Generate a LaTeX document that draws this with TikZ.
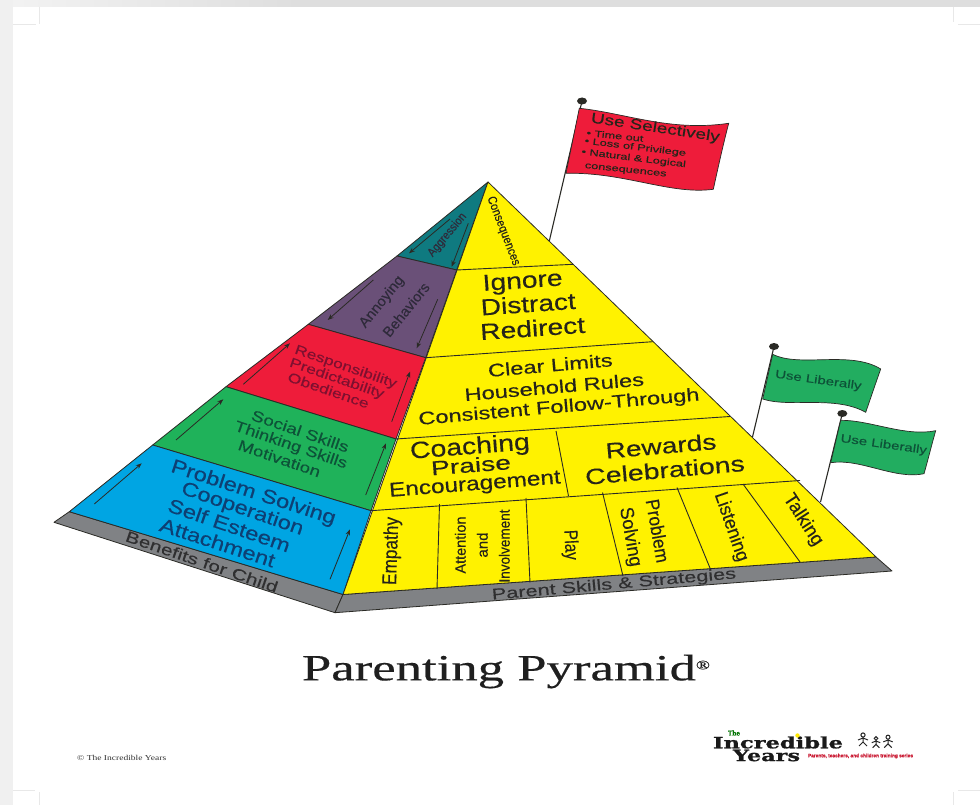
\documentclass[tikz,border=0pt]{standalone}
\usepackage{graphicx}
\usepackage{fontspec}
\setmainfont[FakeBold=0.25]{Liberation Sans}
\newfontfamily\serifface[FakeBold=0.35]{Liberation Serif}
\newfontfamily\plainserif{Liberation Serif}
\newfontfamily\logoface[FakeBold=1]{DejaVu Serif}
\definecolor{cblue}{HTML}{00A5E3}
\definecolor{cgreen}{HTML}{1FB25A}
\definecolor{cred}{HTML}{EE1C3A}
\definecolor{cpurple}{HTML}{6A5078}
\definecolor{cteal}{HTML}{0F7A80}
\definecolor{cyellow}{HTML}{FFF200}
\definecolor{cgrey}{HTML}{808285}
\definecolor{cline}{HTML}{2A2A25}
\definecolor{tblue}{HTML}{0E3F73}
\definecolor{tgreen}{HTML}{0D5238}
\definecolor{tred}{HTML}{7E1030}
\definecolor{tpurple}{HTML}{2E2A3A}
\definecolor{tyellow}{HTML}{26241A}
\definecolor{tgrey}{HTML}{2F2F30}
\definecolor{flaggreen}{HTML}{22AD60}
\newcommand{\lab}[7][tyellow]{\node[inner sep=0pt,rotate=#4,text=#1] (#2) at (#3) {\resizebox{#6pt}{\height}{\fontsize{#5}{#5}\selectfont\rule[-0.1em]{0pt}{0.82em}#7}};}
\tikzset{
 face/.style={draw=cline,line width=0.8pt,line join=round},
 rule/.style={draw=cline,line width=0.9pt},
 upar/.style={draw=cline,line width=0.8pt,-{Stealth[length=6pt,width=4.5pt]}},
 pole/.style={draw=cline,line width=1.1pt},
 crop/.style={draw=black!9,line width=0.8pt},
 fig/.style={draw=black!85,line width=1pt}
}
\usetikzlibrary{arrows.meta}
\begin{document}
\begin{tikzpicture}[x=1pt,y=-1pt]
\useasboundingbox (0,0) rectangle (980,805);
\fill[white] (0,0) rectangle (980,805);
% page surround
\fill[black!6] (0,0) rectangle (13,805);
\shade[left color=black!5,right color=black!13] (13,0) rectangle (300,7);
\fill[black!13] (300,0) rectangle (980,7);
\draw[crop] (39,7) -- (39,24) (13,24) -- (36,24);
\draw[crop] (953,7) -- (953,22) (958,24) -- (980,24);
\draw[crop] (13,790) -- (35,790) (39,792) -- (39,805);
\draw[crop] (953,792) -- (953,805) (958,790) -- (980,790);
% key points
\coordinate (apex) at (488,182);
\coordinate (L1) at (397,256);   \coordinate (C1) at (456.7,270);
\coordinate (L2) at (308.3,324.3); \coordinate (C2) at (425.7,357.7);
\coordinate (L3) at (226,386.7);   \coordinate (C3) at (396,439);
\coordinate (L4) at (152.7,445);   \coordinate (C4) at (371,510.7);
\coordinate (L5) at (69.3,511.7);  \coordinate (C5) at (343,594.5);
\coordinate (R1) at (573.3,264.3); \coordinate (R2) at (652.7,341.7);
\coordinate (R3) at (730,416.5);   \coordinate (R4) at (800,480.5);
\coordinate (R5) at (876,557);
\coordinate (GL) at (54,522.3);    \coordinate (GB) at (335,612.7);
\coordinate (GR) at (892,571);
% flag poles (behind pyramid)
\coordinate (p1t) at (582,101); \coordinate (p1b) at (549.3,241);
\coordinate (p2t) at (774,346.5); \coordinate (p2b) at (752.5,437);
\coordinate (p3t) at (842.3,413.5); \coordinate (p3b) at (820.5,502);
\draw[pole] (p1t) -- (p1b);
\draw[pole] (p2t) -- (p2b);
\draw[pole] (p3t) -- (p3b);
\fill[cline] (p1t) ellipse [x radius=5pt,y radius=3.5pt];
\fill[cline] (p2t) ellipse [x radius=5pt,y radius=3.5pt];
\fill[cline] (p3t) ellipse [x radius=5pt,y radius=3.5pt];
% flags
\filldraw[fill=cred,draw=cline,line width=0.7pt] (579.3,108.3) .. controls (625,113) and (670,132) .. (728.7,123.3) .. controls (723,145) and (718,168) .. (713.3,189.3) .. controls (670,195) and (625,172) .. (566,173.3) -- cycle;
\filldraw[fill=flaggreen,draw=cline,line width=0.7pt] (772.7,354.3) .. controls (800,368) and (850,350) .. (880.7,369) .. controls (875,385) and (870,400) .. (865.7,412.3) .. controls (835,395) and (790,408) .. (762.7,399) -- cycle;
\filldraw[fill=flaggreen,draw=cline,line width=0.7pt] (840.7,420.3) .. controls (870,420) and (905,437) .. (935.7,430.7) .. controls (931,447) and (928,460) .. (924,473.7) .. controls (895,480) and (860,458) .. (830.7,462.7) -- cycle;
% base strips
\filldraw[fill=cgrey,face] (GL) -- (L5) -- (C5) -- (GB) -- cycle;
\filldraw[fill=cgrey,face] (GB) -- (C5) -- (R5) -- (GR) -- cycle;
% left face
\filldraw[fill=cteal,face] (apex) -- (L1) -- (C1) -- cycle;
\filldraw[fill=cpurple,face] (L1) -- (L2) -- (C2) -- (C1) -- cycle;
\filldraw[fill=cred,face] (L2) -- (L3) -- (C3) -- (C2) -- cycle;
\filldraw[fill=cgreen,face] (L3) -- (L4) -- (C4) -- (C3) -- cycle;
\filldraw[fill=cblue,face] (L4) -- (L5) -- (C5) -- (C4) -- cycle;
% right face
\filldraw[fill=cyellow,face] (apex) -- (R5) -- (C5) -- cycle;
\draw[rule] (C1) -- (R1);
\draw[rule] (C2) -- (R2);
\draw[rule] (C3) -- (R3);
\draw[rule] (C4) -- (R4);
\coordinate (d0t) at (556,431); \coordinate (d0b) at (568.5,496);
\draw[rule] (d0t) -- (d0b);
\coordinate (d1t) at (439.5,504); \coordinate (d1b) at (437,589);
\coordinate (d2t) at (526,498);   \coordinate (d2b) at (530,582.5);
\coordinate (d3t) at (602.5,492.5); \coordinate (d3b) at (623,576);
\coordinate (d4t) at (677,487.5); \coordinate (d4b) at (711,570.5);
\coordinate (d5t) at (743,484);   \coordinate (d5b) at (800,562);
\draw[rule] (d1t) -- (d1b);
\draw[rule] (d2t) -- (d2b);
\draw[rule] (d3t) -- (d3b);
\draw[rule] (d4t) -- (d4b);
\draw[rule] (d5t) -- (d5b);
% arrows on the left face
\draw[upar] (94.3,504) -- (141.7,463.3);
\draw[upar] (330,579.3) -- (350,529.3);
\draw[upar] (176,440) -- (223.3,399.3);
\draw[upar] (365.7,495) -- (386,443.3);
\draw[upar] (243.3,384.3) -- (290,343.3);
\draw[upar] (391.7,421.7) -- (410,371.7);
\draw[upar] (373.3,280) -- (327.7,320);
\draw[upar] (437.7,299.3) -- (416.7,348.3);
\draw[upar] (450,219) -- (409,253.3);
\draw[upar] (468.3,223.3) -- (451.7,266.7);
% left-face text
\lab[tblue]{t1}{253.3,493.3}{-18}{19.5}{172}{Problem Solving}
\lab[tblue]{t2}{242.3,509.5}{-19}{19.5}{128}{Cooperation}
\lab[tblue]{t3}{229,526}{-19}{19.5}{128}{Self Esteem}
\lab[tblue]{t4}{217.3,543.3}{-18}{19.5}{120}{Attachment}
\lab[tgreen]{t5}{300,431.7}{-19}{15}{102}{Social Skills}
\lab[tgreen]{t6}{290.7,445.7}{-19}{15}{118}{Thinking Skills}
\lab[tgreen]{t7}{279.3,459}{-19}{15}{86}{Motivation}
\lab[tred]{t8}{345.7,367.3}{-19}{13.5}{107}{Responsibility}
\lab[tred]{t9}{336.7,379}{-19}{13.5}{99}{Predictability}
\lab[tred]{t10}{328.3,390.7}{-19}{13.5}{85}{Obedience}
\lab[tpurple]{t11}{382,302}{51}{14.5}{62}{Annoying}
\lab[tpurple]{t12}{406.5,310}{51}{14.5}{65}{Behaviors}
\lab[tpurple]{t13}{447.3,235}{50}{12}{53}{Aggression}
\lab[tgrey]{t14}{201.7,562.3}{-19}{15.5}{160}{Benefits for Child}
% right-face text
\lab{r1}{503.3,231}{-69}{12.5}{73}{Consequences}
\lab{r2}{522.7,282.3}{4}{23}{80}{Ignore}
\lab{r3}{528.3,305}{4}{23}{95}{Distract}
\lab{r4}{532.7,329.3}{4}{23}{105}{Redirect}
\lab{r5}{550.3,366}{5}{18}{125}{Clear Limits}
\lab{r6}{554.3,387.7}{5}{18}{180}{Household Rules}
\lab{r7}{559,408}{5}{18}{282}{Consistent Follow-Through}
\lab{r8}{470,448}{4.5}{23.5}{120}{Coaching}
\lab{r9}{471,466}{4.5}{20}{80}{Praise}
\lab{r10}{475,485}{4.5}{20}{172}{Encouragement}
\lab{r11}{661,447}{5}{22}{111}{Rewards}
\lab{r12}{665,471}{5}{22}{160}{Celebrations}
\lab{r13}{392,551}{88}{20}{68}{Empathy}
\lab{r14}{461,545}{90}{15}{57}{Attention}
\lab{r15}{483,545}{90}{15}{25}{and}
\lab{r16}{505,546}{90}{15}{73}{Involvement}
\lab{r17}{570,545}{-87}{19}{30}{Play}
\lab{r18}{657,531}{-80}{19}{64}{Problem}
\lab{r19}{630,537}{-80}{19}{60}{Solving}
\lab{r20}{731,527}{-71}{19}{72}{Listening}
\lab{r21}{803,520}{-57}{19}{58}{Talking}
\lab[tgrey]{r22}{614,585}{5}{15.5}{245}{Parent Skills \& Strategies}
% flag text
\lab{f1}{655.3,128.3}{-8.5}{14.5}{130}{Use Selectively}
\lab{f2}{615,136}{-6}{9}{57}{\textbullet{} Time out}
\lab{f3}{635.3,147.5}{-7}{9}{102}{\textbullet{} Loss of Privilege}
\lab{f4}{633.7,158.5}{-7}{9}{105}{\textbullet{} Natural \& Logical}
\lab{f5}{625.7,170}{-6}{9}{82}{consequences}
\lab[tgreen]{f6}{818.3,380.7}{-8}{11.5}{87}{Use Liberally}
\lab[tgreen]{f7}{883.7,445}{-8}{11.5}{87}{Use Liberally}
% title
\node[inner sep=0pt,text=black!88] (title) at (506,671) {\resizebox{408pt}{\height}{\serifface\fontsize{37}{37}\selectfont\rule[-0.1em]{0pt}{0.82em}Parenting Pyramid\raisebox{11pt}{\fontsize{13}{13}\selectfont\textregistered}}};
\node[inner sep=0pt,anchor=west,text=black!80] (copy) at (77,758) {\resizebox{89pt}{\height}{\plainserif\fontsize{7.5}{7.5}\selectfont\rule[-0.1em]{0pt}{0.82em}\textcopyright{} The Incredible Years}};
% logo
\node[inner sep=0pt,text=black!90] (logo1) at (778,742.5) {\resizebox{130pt}{\height}{\logoface\bfseries\fontsize{15.5}{15.5}\selectfont Incredible}};
\node[inner sep=0pt,text=black!90] (logo2) at (766.5,755.5) {\resizebox{67pt}{\height}{\logoface\bfseries\fontsize{15.5}{15.5}\selectfont Years}};
\node[inner sep=0pt,text=green!45!black] (logo3) at (734,733) {\resizebox{12pt}{\height}{\logoface\bfseries\fontsize{6.5}{6.5}\selectfont The}};
\fill[yellow!90!orange] (797.5,735.5) circle (2.2pt);
\node[inner sep=0pt,text=cred!85!black] (logo4) at (860.5,756) {\resizebox{105pt}{\height}{\bfseries\fontsize{5}{5}\selectfont Parents, teachers, and children training series}};
% family figures
\foreach \fx/\fy/\fs in {863/738/1.0,876/741/0.85,888/740/0.95}{
 \draw[fig] (\fx,\fy-3*\fs) circle (2.1pt*\fs);
 \draw[fig] (\fx,\fy-1*\fs) -- (\fx,\fy+4*\fs) -- (\fx-4*\fs,\fy+8*\fs) (\fx,\fy+4*\fs) -- (\fx+4*\fs,\fy+8*\fs) (\fx-5*\fs,\fy+2*\fs) -- (\fx,\fy) -- (\fx+5*\fs,\fy+2*\fs);
}
\end{tikzpicture}
\end{document}
